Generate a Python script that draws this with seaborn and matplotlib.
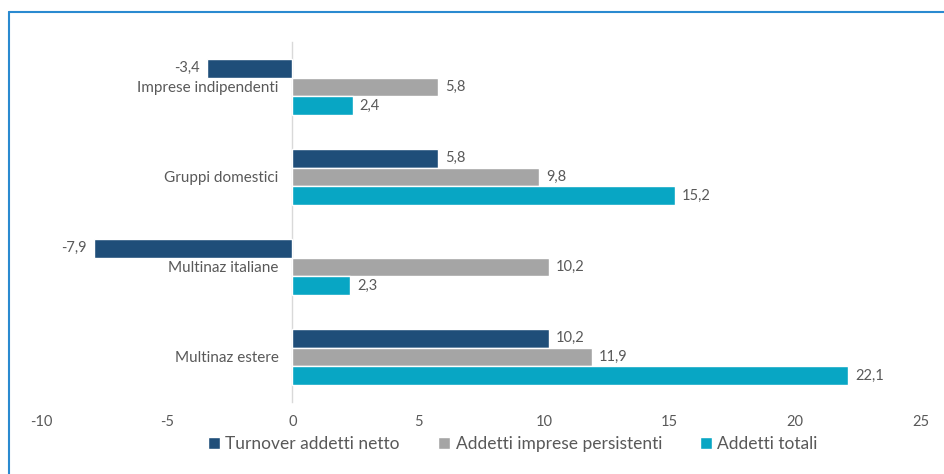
import matplotlib
matplotlib.use("Agg")
import matplotlib.pyplot as plt
from matplotlib.lines import Line2D
import seaborn as sns
import pandas as pd

categories = ["Imprese indipendenti", "Gruppi domestici", "Multinaz italiane", "Multinaz estere"]
series = ["Turnover addetti netto", "Addetti imprese persistenti", "Addetti totali"]
turnover = [-3.4, 5.8, -7.9, 10.2]
persistenti = [5.8, 9.8, 10.2, 11.9]
totali = [2.4, 15.2, 2.3, 22.1]
x_ticks = [-10, -5, 0, 5, 10, 15, 20, 25]

colors = ["#1F4E79", "#A5A5A5", "#08A6C4"]
text_color = "#595959"

rows = []
for name, vals in zip(series, [turnover, persistenti, totali]):
    for cat, v in zip(categories, vals):
        rows.append({"categoria": cat, "serie": name, "valore": v})
df = pd.DataFrame(rows)

sns.set_theme(style="white")
plt.rcParams["font.family"] = ["Lato", "DejaVu Sans"]

W, H = 945, 474
fig = plt.figure(figsize=(W / 100, H / 100), dpi=100)
ax = fig.add_axes([41 / W, 1 - 402 / H, (921 - 41) / W, (402 - 42) / H])

sns.barplot(data=df, x="valore", y="categoria", hue="serie", order=categories,
            hue_order=series, palette=colors, orient="h", width=0.63,
            saturation=1, ax=ax, legend=True)

for container in ax.containers:
    labels = [f"{v:.1f}".replace(".", ",") for v in container.datavalues]
    ax.bar_label(container, labels=labels, padding=5, fontsize=10.5, color=text_color)

ax.set_xlim(-10, 25)
ax.set_ylim(3.5, -0.5)
ax.set_xticks(x_ticks)
ax.set_xticklabels([str(t) for t in x_ticks])
ax.set_xlabel("")
ax.set_ylabel("")

# category axis sits at zero, its labels right next to it
for name, s in ax.spines.items():
    s.set_visible(name == "left")
ax.spines["left"].set_position(("data", 0))
ax.spines["left"].set_color("#D9D9D9")
ax.spines["left"].set_linewidth(1)
ax.spines["left"].set_zorder(0)

ax.tick_params(axis="x", length=0, pad=9, labelsize=10.5, labelcolor=text_color)
ax.tick_params(axis="y", length=0, pad=10, labelsize=11, labelcolor=text_color)

handles, labs = ax.get_legend_handles_labels()
ax.legend_.remove()
fig.legend(handles, labs, loc="center", bbox_to_anchor=(513 / W, 1 - 444 / H),
           ncol=3, frameon=False, fontsize=12.5, handlelength=0.7, handleheight=0.7,
           handletextpad=0.3, columnspacing=2.2, labelcolor=text_color)

# blue frame lines on top and left
fig.add_artist(Line2D([9 / W, 1], [1 - 12 / H, 1 - 12 / H], color="#2A8AD0", lw=1.5,
                      transform=fig.transFigure))
fig.add_artist(Line2D([9 / W, 9 / W], [0, 1 - 12 / H], color="#2A8AD0", lw=1.5,
                      transform=fig.transFigure))

fig.savefig("out.png", dpi=100, facecolor="white")
